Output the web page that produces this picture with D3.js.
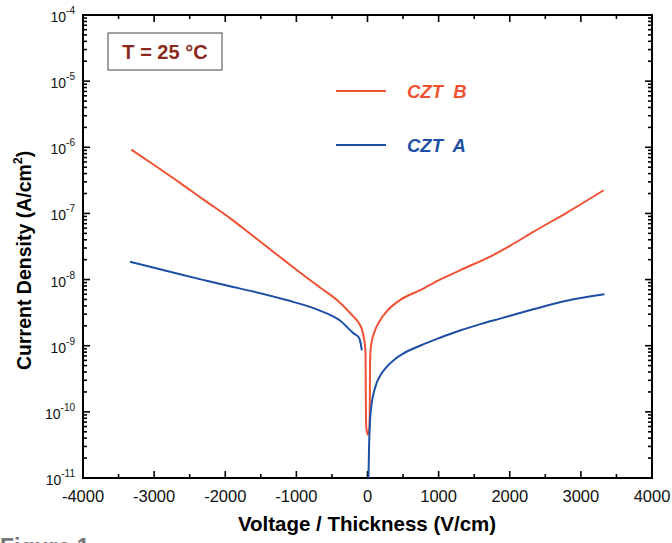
<!DOCTYPE html>
<head>
  <meta charset="utf-8" />
  <script src="https://d3js.org/d3.v7.min.js"></script>
  <style>
    body { margin: 0; background: #fff; }
    svg { display: block; font-family: "Liberation Sans", Arial, sans-serif; }
  </style>
</head>
<body>
  <svg width="672" height="543"></svg>
  <script>
    // CZT B (red)
    var voltB = [-3320, -3000, -2636, -2300, -1933, -1600, -1230, -1000, -668, -429, -204, -120, -77, -50, -35, -27, -25, -22, -18, 5,
                 28, 33, 36, 45, 60, 105, 176, 270, 457, 738, 1019, 1300, 1766, 2003, 2330, 2798, 3320];
    var currB = [9.2e-7, 5.4e-7, 2.9e-7, 1.6e-7, 8.5e-8, 4.47e-8, 2.19e-8, 1.41e-8, 7.6e-9, 4.9e-9, 2.8e-9, 2.19e-9, 1.74e-9, 1.3e-9, 1.0e-9, 7e-10, 3e-10, 1e-10, 6e-11, 4.5e-11,
                 6e-11, 1.5e-10, 5.5e-10, 9e-10, 1.15e-9, 1.7e-9, 2.4e-9, 3.3e-9, 4.9e-9, 6.9e-9, 1.0e-8, 1.38e-8, 2.35e-8, 3.24e-8, 5.25e-8, 1.02e-7, 2.24e-7];
    // CZT A (blue), reverse branch and forward branch
    var voltA1 = [-3340, -3000, -2636, -2300, -1933, -1606, -1138, -669, -387, -200, -120, -95, -80];
    var currA1 = [1.86e-8, 1.51e-8, 1.2e-8, 9.8e-9, 7.9e-9, 6.6e-9, 4.9e-9, 3.4e-9, 2.4e-9, 1.55e-9, 1.32e-9, 1.07e-9, 8.5e-10];
    var voltA2 = [14, 22, 31, 45, 59, 90, 129, 190, 270, 380, 500, 738, 1019, 1300, 1600, 1863, 2330, 2798, 3330];
    var currA2 = [1e-11, 3e-11, 6e-11, 1e-10, 1.35e-10, 2e-10, 2.75e-10, 3.7e-10, 4.8e-10, 6.2e-10, 7.6e-10, 1.0e-9, 1.32e-9, 1.7e-9, 2.14e-9, 2.57e-9, 3.55e-9, 4.8e-9, 6.0e-9];

    var xTicks = [-4000, -3000, -2000, -1000, 0, 1000, 2000, 3000, 4000];
    var yExps = [-4, -5, -6, -7, -8, -9, -10, -11];

    var red = "#f05233", blue = "#1d4fa6";
    var pL = 83, pR = 652, pT = 15, pB = 478;

    var svg = d3.select("svg");
    var x = d3.scaleLinear().domain([-4000, 4000]).range([pL, pR]);
    var y = d3.scaleLog().domain([1e-11, 1e-4]).range([pB, pT]);

    // minor ticks
    var xMinor = d3.range(-3500, 4000, 1000);
    var yMinor = [];
    yExps.slice(1).forEach(function (e) {
      for (var k = 2; k <= 9; k++) yMinor.push(k * Math.pow(10, e));
    });

    var g = svg.append("g").attr("stroke", "#000").attr("stroke-width", 1.6);
    xTicks.forEach(function (v) {
      g.append("line").attr("x1", x(v)).attr("x2", x(v)).attr("y1", pB).attr("y2", pB - 7);
      g.append("line").attr("x1", x(v)).attr("x2", x(v)).attr("y1", pT).attr("y2", pT + 7);
    });
    xMinor.forEach(function (v) {
      g.append("line").attr("x1", x(v)).attr("x2", x(v)).attr("y1", pB).attr("y2", pB - 4);
      g.append("line").attr("x1", x(v)).attr("x2", x(v)).attr("y1", pT).attr("y2", pT + 4);
    });
    yExps.forEach(function (e) {
      var yy = y(Math.pow(10, e));
      g.append("line").attr("x1", pL).attr("x2", pL + 7).attr("y1", yy).attr("y2", yy);
      g.append("line").attr("x1", pR).attr("x2", pR - 7).attr("y1", yy).attr("y2", yy);
    });
    yMinor.forEach(function (v) {
      g.append("line").attr("x1", pL).attr("x2", pL + 4).attr("y1", y(v)).attr("y2", y(v));
      g.append("line").attr("x1", pR).attr("x2", pR - 4).attr("y1", y(v)).attr("y2", y(v));
    });
    svg.append("rect").attr("x", pL).attr("y", pT).attr("width", pR - pL).attr("height", pB - pT)
      .attr("fill", "none").attr("stroke", "#000").attr("stroke-width", 2);

    // tick labels
    svg.append("g").selectAll("text").data(xTicks).enter().append("text")
      .attr("x", function (d) { return x(d); }).attr("y", 502)
      .attr("text-anchor", "middle").attr("font-size", 16.5).attr("fill", "#111")
      .text(function (d) { return d; });

    var yl = svg.append("g").selectAll("text").data(yExps).enter().append("text")
      .attr("x", 75).attr("y", function (d) { return y(Math.pow(10, d)) + 7; })
      .attr("text-anchor", "end").attr("font-size", 14).attr("fill", "#111");
    yl.append("tspan").text("10");
    yl.append("tspan").attr("font-size", 10).attr("dy", -8).text(function (d) { return d; });

    // axis titles
    svg.append("text").attr("x", 367).attr("y", 531)
      .attr("text-anchor", "middle").attr("font-size", 20.5).attr("font-weight", "bold")
      .text("Voltage / Thickness (V/cm)");
    var yt = svg.append("text").attr("transform", "translate(31,370) rotate(-90)")
      .attr("font-size", 19.5).attr("font-weight", "bold");
    yt.append("tspan").text("Current Density (A/cm");
    yt.append("tspan").attr("font-size", 12.5).attr("dy", -9).text("2");
    yt.append("tspan").attr("dy", 9).text(")");

    // figure caption, cut off by the page edge
    svg.append("text").attr("x", 0).attr("y", 555).attr("font-size", 23).attr("font-weight", "bold")
      .attr("fill", "#777").text("Figure 1");

    // curves
    var line = d3.line().curve(d3.curveMonotoneX)
      .x(function (d) { return x(d[0]); }).y(function (d) { return y(d[1]); });
    var plot = svg.append("g").attr("fill", "none").attr("stroke-width", 2);
    plot.append("path").datum(d3.zip(voltB, currB)).attr("stroke", red).attr("d", line);
    plot.append("path").datum(d3.zip(voltA1, currA1)).attr("stroke", blue).attr("d", line);
    plot.append("path").datum(d3.zip(voltA2, currA2)).attr("stroke", blue).attr("d", line);

    // temperature box
    svg.append("rect").attr("x", 108).attr("y", 33).attr("width", 114).attr("height", 37)
      .attr("fill", "#fff").attr("stroke", "#444").attr("stroke-width", 1);
    svg.append("text").attr("x", 165).attr("y", 59).attr("text-anchor", "middle")
      .attr("font-size", 20).attr("font-weight", "bold").attr("fill", "#8a2a1c").text("T = 25 °C");

    // legend
    var legend = [{ name: "CZT  B", color: red, yy: 91 }, { name: "CZT  A", color: blue, yy: 145 }];
    legend.forEach(function (d) {
      svg.append("line").attr("x1", 336).attr("x2", 386).attr("y1", d.yy).attr("y2", d.yy)
        .attr("stroke", d.color).attr("stroke-width", 2);
      svg.append("text").attr("x", 407).attr("y", d.yy + 7).attr("font-size", 18.5)
        .attr("font-weight", "bold").attr("font-style", "italic").attr("fill", d.color)
        .style("white-space", "pre").text(d.name);
    });
  </script>
</body>
